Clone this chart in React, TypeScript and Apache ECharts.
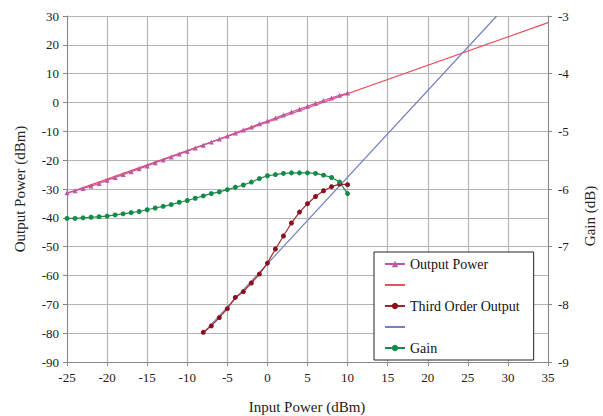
import React, { useEffect, useRef } from "react";
import * as echarts from "echarts";

const inputPower: number[] = [
  -25, -24, -23, -22, -21, -20, -19, -18, -17, -16, -15, -14, -13, -12, -11, -10, -9, -8,
  -7, -6, -5, -4, -3, -2, -1, 0, 1, 2, 3, 4, 5, 6, 7, 8, 9, 10,
];
const outputPower: number[] = [
  -31.3, -30.6, -29.8, -29.0, -28.1, -27.0, -26.0, -25.0, -24.0, -23.0, -22.0, -20.9,
  -19.9, -18.9, -17.9, -16.9, -15.8, -14.8, -13.7, -12.7, -11.6, -10.6, -9.5, -8.5,
  -7.4, -6.4, -5.4, -4.3, -3.3, -2.3, -1.3, -0.3, 0.7, 1.6, 2.5, 3.3,
];
const gain: number[] = [
  -6.51, -6.51, -6.5, -6.49, -6.48, -6.47, -6.45, -6.43, -6.41, -6.39, -6.36, -6.33,
  -6.3, -6.27, -6.23, -6.2, -6.16, -6.12, -6.08, -6.05, -6.01, -5.97, -5.93, -5.88,
  -5.82, -5.77, -5.75, -5.73, -5.72, -5.72, -5.72, -5.73, -5.76, -5.8, -5.88, -6.08,
];
const thirdInput: number[] = [-8, -7, -6, -5, -4, -3, -2, -1, 0, 1, 2, 3, 4, 5, 6, 7, 8, 9, 10];
const thirdOutput: number[] = [
  -79.7, -77.5, -74.6, -71.5, -67.6, -65.6, -62.6, -59.5, -55.7, -50.8, -46.3, -41.8,
  -38.0, -35.1, -32.6, -30.6, -29.2, -28.3, -28.5,
];
const fundamentalLine: number[][] = [
  [-25, -31.5],
  [35, 27.7],
];
const thirdOrderLine: number[][] = [
  [-8, -80],
  [28.6, 30],
];

const FONT = "Liberation Serif";

export default function App() {
  const ref = useRef<HTMLDivElement>(null);
  useEffect(() => {
    if (!ref.current) return;
    const chart = echarts.init(ref.current, undefined, { renderer: "svg" });
    const axisLabel = { color: "#1a1a1a", fontFamily: FONT, fontSize: 13 };
    chart.setOption({
      animation: false,
      backgroundColor: "#fff",
      textStyle: { fontFamily: FONT },
      grid: { left: 67, right: 55, top: 16, bottom: 54 },
      xAxis: {
        type: "value",
        min: -25,
        max: 35,
        interval: 5,
        axisLine: { onZero: false, lineStyle: { color: "#888" } },
        axisTick: { show: true, length: 4, lineStyle: { color: "#888" } },
        axisLabel: { ...axisLabel, margin: 9 },
        splitLine: { show: true, lineStyle: { color: "#b4b4b4", width: 1.2 } },
      },
      yAxis: [
        {
          type: "value",
          min: -90,
          max: 30,
          interval: 10,
          axisLine: { show: true, onZero: false, lineStyle: { color: "#888" } },
          axisTick: { show: true, length: 4, lineStyle: { color: "#888" } },
          axisLabel: { ...axisLabel, margin: 8 },
          splitLine: { show: true, lineStyle: { color: "#b4b4b4", width: 1.2 } },
        },
        {
          type: "value",
          position: "right",
          min: -9,
          max: -3,
          interval: 1,
          axisLine: { show: true, onZero: false, lineStyle: { color: "#888" } },
          axisTick: { show: true, length: 4, lineStyle: { color: "#888" } },
          axisLabel: { ...axisLabel, margin: 10 },
          splitLine: { show: false },
        },
      ],
      legend: {
        left: 374,
        top: 252,
        orient: "vertical",
        backgroundColor: "#fff",
        borderColor: "#222",
        borderWidth: 1,
        borderRadius: 0,
        padding: [5, 14, 5, 10],
        itemGap: 7,
        itemWidth: 20,
        itemHeight: 8,
        textStyle: { fontFamily: FONT, fontSize: 14, color: "#111" },
        data: [
          { name: "Output Power" },
          { name: " ", itemStyle: { opacity: 0 } },
          { name: "Third Order Output" },
          { name: "  ", itemStyle: { opacity: 0 } },
          { name: "Gain" },
        ],
      },
      series: [
        {
          name: " ",
          type: "line",
          data: fundamentalLine,
          symbol: "none",
          lineStyle: { color: "#e85060", width: 1.2 },
          itemStyle: { color: "#e85060" },
          z: 2,
        },
        {
          name: "  ",
          type: "line",
          data: thirdOrderLine,
          symbol: "none",
          lineStyle: { color: "#7480c4", width: 1.2 },
          itemStyle: { color: "#7480c4" },
          z: 2,
        },
        {
          name: "Output Power",
          type: "line",
          data: inputPower.map((x, i) => [x, outputPower[i]]),
          symbol: "triangle",
          symbolSize: 5,
          lineStyle: { color: "#c8509c", width: 1.2 },
          itemStyle: { color: "#b85aa8" },
          z: 3,
        },
        {
          name: "Third Order Output",
          type: "line",
          data: thirdInput.map((x, i) => [x, thirdOutput[i]]),
          symbol: "circle",
          symbolSize: 5,
          lineStyle: { color: "#a02828", width: 1.2 },
          itemStyle: { color: "#8a1020" },
          z: 3,
        },
        {
          name: "Gain",
          type: "line",
          yAxisIndex: 1,
          data: inputPower.map((x, i) => [x, gain[i]]),
          symbol: "circle",
          symbolSize: 5,
          lineStyle: { color: "#1a8a4a", width: 1.2 },
          itemStyle: { color: "#168a48" },
          z: 3,
        },
      ],
      graphic: [
        {
          type: "text",
          x: 307,
          y: 407,
          style: {
            text: "Input Power (dBm)",
            font: `15px "${FONT}"`,
            fill: "#222",
            align: "center",
            verticalAlign: "middle",
          },
        },
        {
          type: "text",
          x: 20,
          y: 189,
          rotation: Math.PI / 2,
          style: {
            text: "Output Power (dBm)",
            font: `15px "${FONT}"`,
            fill: "#222",
            align: "center",
            verticalAlign: "middle",
          },
        },
        {
          type: "text",
          x: 590,
          y: 216,
          rotation: Math.PI / 2,
          style: {
            text: "Gain (dB)",
            font: `15px "${FONT}"`,
            fill: "#222",
            align: "center",
            verticalAlign: "middle",
          },
        },
      ],
    });
    return () => chart.dispose();
  }, []);
  return (
    <div
      ref={ref}
      style={{ position: "fixed", left: 0, top: 0, width: 603, height: 416, background: "#fff" }}
    />
  );
}
